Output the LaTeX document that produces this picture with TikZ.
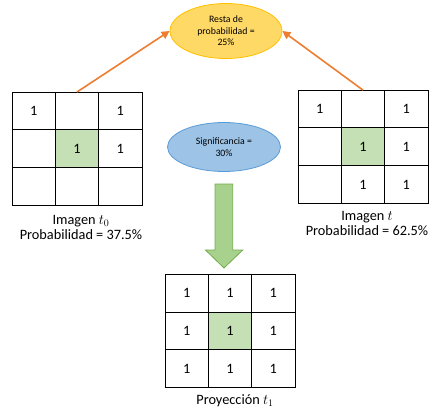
\documentclass[tikz,border=0pt]{standalone}
\usepackage{fontspec}
\setmainfont{Carlito}
\usetikzlibrary{positioning,shapes.geometric,arrows.meta}
\definecolor{celdaverde}{HTML}{C5E0B4}
\definecolor{naranja}{HTML}{ED7D31}
\definecolor{oro}{HTML}{FFD966}
\definecolor{orooscuro}{HTML}{FFC000}
\definecolor{azul}{HTML}{9DC3E6}
\definecolor{azuloscuro}{HTML}{5B9BD5}
\definecolor{verde}{HTML}{A9D18E}
\definecolor{verdeoscuro}{HTML}{70AD47}

\begin{document}
\begin{tikzpicture}[x=1pt,y=-1pt,
				every node/.style={font=\fontsize{14.3}{15.5}\selectfont},
				cell/.style={minimum width=43.3pt,minimum height=37.8pt,outer sep=0pt,draw,line width=0.9pt,rectangle,node distance=0pt},
				hit/.style={cell,fill=celdaverde},
				bubble/.style={ellipse,inner sep=0pt,line width=0.8pt,align=center,font=\fontsize{9.8}{11.5}\selectfont},
				flecha/.style={draw=naranja,line width=1.6pt,-{Triangle[length=8pt,width=8pt]}},
				bajada/.style={fill=verde,draw=verdeoscuro,line width=0.8pt,line join=miter}]
				\useasboundingbox (0,0) rectangle (432,413);
				% imagen t0
				\node (L1) [cell] at (33.7,110.9) {1};
				\node (L2) [cell,right=of L1]     {};
				\node (L3) [cell,right=of L2]     {1};
				\node (L4) [cell,below=of L1]     {};
				\node (L5) [hit,right=of L4]      {1};
				\node (L6) [cell,right=of L5]     {1};
				\node (L7) [cell,below=of L4]     {};
				\node (L8) [cell,right=of L7]     {};
				\node (L9) [cell,right=of L8]     {};
				\node (LT) [below=6pt of L8,xshift=4pt,align=center] {Imagen $t_0$\\Probabilidad = 37.5\%};
				% imagen t
				\node (R1) [cell] at (319.7,109) {1};
				\node (R2) [cell,right=of R1]    {};
				\node (R3) [cell,right=of R2]    {1};
				\node (R4) [cell,below=of R1]    {};
				\node (R5) [hit,right=of R4]     {1};
				\node (R6) [cell,right=of R5]    {1};
				\node (R7) [cell,below=of R4]    {};
				\node (R8) [cell,right=of R7]    {1};
				\node (R9) [cell,right=of R8]    {1};
				\node (RT) [below=4pt of R8,xshift=4pt,align=center] {Imagen $t$\\Probabilidad = 62.5\%};
				% proyeccion t1
				\node (P1) [cell] at (186.7,293.2) {1};
				\node (P2) [cell,right=of P1]      {1};
				\node (P3) [cell,right=of P2]      {1};
				\node (P4) [cell,below=of P1]      {1};
				\node (P5) [hit,right=of P4]       {1};
				\node (P6) [cell,right=of P5]      {1};
				\node (P7) [cell,below=of P4]      {1};
				\node (P8) [cell,right=of P7]      {1};
				\node (P9) [cell,right=of P8]      {1};
				\node (PT) [below=3pt of P8,xshift=5pt] {Proyección $t_1$};
				
				\node (RESTA)  [bubble,fill=oro,draw=orooscuro,minimum width=112pt,minimum height=55pt] at (226,31) {Resta de\\probabilidad =\\25\%};
				\node (SIGNIF) [bubble,fill=azul,draw=azuloscuro,minimum width=113pt,minimum height=49pt] at (224,147) {Significancia =\\30\%};
				
				\draw[flecha] (L2.north) -- (RESTA.west);
				\draw[flecha] (R2.north) -- (RESTA.east);
				\draw[bajada] (215,184) -- (232.7,184) -- (232.7,250) -- (242.7,250) -- (224,268) -- (205.5,250) -- (215,250) -- cycle;
			\end{tikzpicture}
\end{document}
